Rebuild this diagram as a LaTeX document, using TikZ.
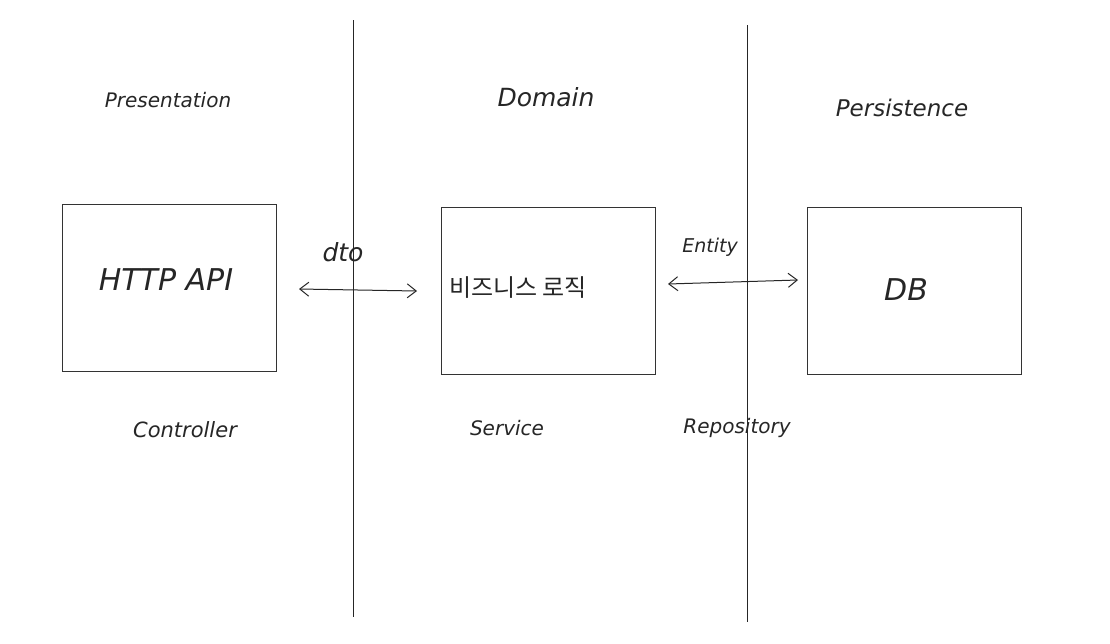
\documentclass[tikz,border=0pt]{standalone}
\usepackage{fontspec}
\setmainfont{DejaVu Sans}
\newfontfamily\kr{Noto Sans CJK KR}
\usetikzlibrary{arrows.meta}
\tikzset{
  box/.style={draw=black!80, line width=1pt, minimum width=214pt, minimum height=167pt, inner sep=0pt},
  hand/.style={font=\fontsize{20}{24}\selectfont\itshape, text=black!85, inner sep=0pt},
  big/.style={font=\fontsize{30}{34}\selectfont\itshape, text=black!85, inner sep=0pt},
  divider/.style={draw=black!85, line width=0.9pt},
  conn/.style={draw=black!85, line width=1pt, {Straight Barb[length=9pt,width=14pt]}-{Straight Barb[length=9pt,width=14pt]}}
}
\begin{document}
\begin{tikzpicture}[x=1pt,y=-1pt]
\useasboundingbox[fill=white] (0,0) rectangle (1110,643);
% dividers
\coordinate (d1t) at (353,20); \coordinate (d1b) at (353,617);
\coordinate (d2t) at (747,25); \coordinate (d2b) at (747,622);
\draw[divider] (d1t) -- (d1b);
\draw[divider] (d2t) -- (d2b);
% layer titles
\node[hand] (pres) at (168,100) {Presentation};
\node[hand, font=\fontsize{25}{29}\selectfont\itshape] (dom) at (546,97) {Domain};
\node[hand, font=\fontsize{23}{27}\selectfont\itshape] (pers) at (902,108) {Persistence};
% boxes
\node[box] (http) at (169,287.5) {};
\node[big] (httpt) at (166,280) {HTTP API};
\node[box] (biz) at (548.5,290.5) {};
\node[font=\kr\fontsize{24}{28}\selectfont, text=black!85, inner sep=0pt] (bizt) at (518,288) {비즈니스 로직};
\node[box] (db) at (914,290.5) {};
\node[big] (dbt) at (906,290) {DB};
% connectors
\coordinate (a1) at (299,289); \coordinate (a2) at (417,291);
\draw[conn] (a1) -- (a2);
\node[hand, font=\fontsize{25}{29}\selectfont\itshape] (dto) at (343,252) {dto};
\coordinate (b1) at (668,284); \coordinate (b2) at (798,280);
\draw[conn] (b1) -- (b2);
\node[hand, font=\fontsize{19}{22}\selectfont\itshape] (ent) at (710,247) {Entity};
% bottom labels
\node[hand, font=\fontsize{21}{25}\selectfont\itshape] (ctrl) at (185,430) {Controller};
\node[hand] (svc) at (507,428) {Service};
\node[hand] (repo) at (737,428) {Repository};
\end{tikzpicture}
\end{document}
